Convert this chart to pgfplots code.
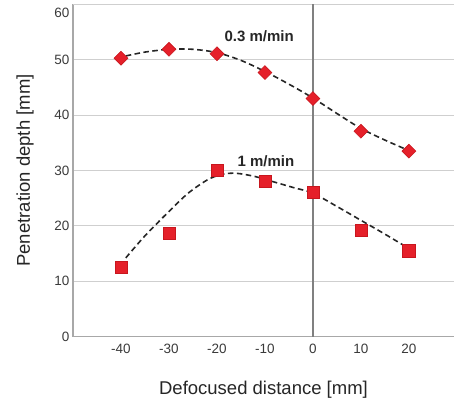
\documentclass[border=0pt]{standalone}
\usepackage{pgfplots}
\pgfplotsset{compat=1.18}
\usepackage{fontspec}
\setmainfont{Liberation Sans}

\definecolor{mkred}{HTML}{E5202A}
\definecolor{mkedge}{HTML}{C8161E}
\definecolor{gridgray}{HTML}{CFCFCF}
\definecolor{spine}{HTML}{A8A8A8}
\definecolor{zeroline}{HTML}{808080}
\definecolor{ticktext}{HTML}{3A3A3A}

\begin{document}
\begin{tikzpicture}
\begin{axis}[
    name=ax,
    scale only axis,
    width=381pt,
    height=332pt,
    xmin=-50, xmax=29.4,
    ymin=0, ymax=60,
    axis x line*=bottom,
    axis y line*=left,
    axis line style={spine, line width=1.2pt, -},
    xtick={-40,-30,-20,-10,0,10,20},
    ytick={0,10,20,30,40,50},
    extra y ticks={60},
    extra y tick style={grid=major, yticklabel style={yshift=-8.5pt}},
    major tick length=0pt,
    ymajorgrids,
    major grid style={gridgray, line width=0.8pt},
    /pgf/number format/assume math mode=true,
    tick label style={font=\fontsize{13.5}{16}\selectfont, text=ticktext},
    xticklabel style={yshift=-4.5pt},
    xlabel={Defocused distance [mm]},
    ylabel={Penetration depth [mm]},
    label style={font=\fontsize{18.5}{22}\selectfont, text=black!85},
    xlabel style={at={(axis description cs:0.5,-0.1755)}, anchor=base},
    ylabel style={at={(axis description cs:-0.113,0.5)}, anchor=base},
    clip=false,
]

% vertical line at zero defocus
\addplot[zeroline, line width=1.2pt] coordinates {(0,0) (0,60)};

% fitted curves
\addplot[black!85, line width=1.6pt, dash pattern=on 5.5pt off 3.5pt, smooth] coordinates {
    (-39,50.7) (-35,51.4) (-30,51.9) (-25,51.9) (-20,51.3) (-15,49.9)
    (-10,47.9) (-5,45.6) (0,43.1) (5,40.3) (10,37.6) (15,35.5) (20,33.6)
};
\addplot[black!85, line width=1.6pt, dash pattern=on 5.5pt off 3.5pt, smooth] coordinates {
    (-39,14.2) (-35,18.2) (-30,22.6) (-26,25.9) (-22,28.3) (-19,29.3)
    (-16,29.5) (-12,28.9) (-8,27.9) (-4,26.9) (0,25.9) (5,23.5)
    (10,21.0) (15,18.5) (20,15.9)
};

% 0.3 m/min
\addplot[only marks, mark=square*, mark size=4.9pt,
    mark options={rotate=45, fill=mkred, draw=mkedge, line width=0.6pt}] coordinates {
    (-40,50.3) (-30,51.9) (-20,51.1) (-10,47.7) (0,43.0) (10,37.1) (20,33.5)
};

% 1 m/min
\addplot[only marks, mark=square*, mark size=6.1pt,
    mark options={fill=mkred, draw=mkedge, line width=0.6pt}] coordinates {
    (-40,12.5) (-30,18.6) (-20,30.0) (-10,28.0) (0,26.1) (10,19.2) (20,15.5)
};

\node[font=\bfseries\fontsize{15}{18}\selectfont, text=black!85] at (axis cs:-11.2,54.3) {0.3 m/min};
\node[font=\bfseries\fontsize{15}{18}\selectfont, text=black!85] at (axis cs:-9.8,31.6) {1 m/min};
\end{axis}
\pgfresetboundingbox
\path[use as bounding box] ([shift={(-73pt,-64.3pt)}]ax.south west) rectangle ([shift={(0pt,4.5pt)}]ax.north east);
\end{tikzpicture}
\end{document}
